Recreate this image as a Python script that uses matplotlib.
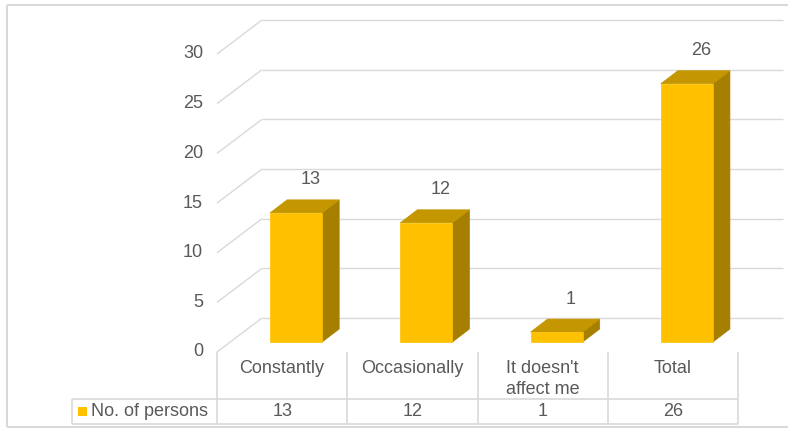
import matplotlib
matplotlib.use("Agg")
import matplotlib.pyplot as plt
import matplotlib.transforms as mtransforms
from matplotlib.patches import Polygon, Rectangle
from matplotlib.lines import Line2D

# ---- data ----
categories = ["Constantly", "Occasionally", "It doesn't\naffect me", "Total"]
series_name = "No. of persons"
values = [13, 12, 1, 26]
y_ticks = [0, 5, 10, 15, 20, 25, 30]

# ---- style ----
FRONT = "#FFC000"
TOP = "#C49600"
SIDE = "#A67E00"
GRID = "#D9D9D9"
TEXT = "#595959"
FS = 13

plt.rcParams["font.family"] = ["Liberation Sans", "DejaVu Sans"]

W, H = 788, 428
fig = plt.figure(figsize=(W / 100, H / 100), dpi=100)

# back wall of the 3-D plot area (pixel layout)
wall_left, wall_right, wall_top, wall_bottom = 262, 783, 20, 318
ax = fig.add_axes([wall_left / W, (H - wall_bottom) / H,
                   (wall_right - wall_left) / W, (wall_bottom - wall_top) / H])
ax.set_xlim(-0.5, len(categories) - 0.5)
ax.set_ylim(0, 30)
ax.axis("off")

# depth offsets (display pixels, y up)
FLOOR = (-45, -34)       # front edge of floor / side wall
BAR_FRONT = (-31, -24)   # front face of columns
BAR_BACK = (-14, -11)    # back face of columns
BAR_W = 0.40

ident = mtransforms.IdentityTransform()


def disp(x, v, off=(0, 0)):
    p = ax.transData.transform((x, v))
    return (p[0] + off[0], p[1] + off[1])


def img(x, y):
    """image-style pixel (y down) -> display pixel"""
    return (x, H - y)


def shifted(dx, dy):
    return mtransforms.offset_copy(ax.transData, fig=fig, x=dx, y=dy, units="dots")


def line(p0, p1, color=GRID, lw=1.0, z=1):
    fig.add_artist(Line2D([p0[0], p1[0]], [p0[1], p1[1]], transform=ident,
                          color=color, lw=lw, zorder=z, solid_capstyle="butt"))


# ---- gridlines on back wall and side wall ----
for t in y_ticks:
    line(disp(-0.5, t), disp(len(categories) - 0.5, t))
    line(disp(-0.5, t), disp(-0.5, t, FLOOR))
    ax.text(-0.5, t, str(t), transform=shifted(FLOOR[0] - 14, FLOOR[1]),
            ha="right", va="center", fontsize=FS, color=TEXT, clip_on=False)

# ---- 3-D columns ----
for i, v in enumerate(values):
    x0, x1 = i - BAR_W / 2, i + BAR_W / 2
    fl, fr = disp(x0, 0, BAR_FRONT), disp(x1, 0, BAR_FRONT)
    tl, tr = disp(x0, v, BAR_FRONT), disp(x1, v, BAR_FRONT)
    btl, btr = disp(x0, v, BAR_BACK), disp(x1, v, BAR_BACK)
    bbr = disp(x1, 0, BAR_BACK)
    fig.add_artist(Polygon([tr, btr, bbr, fr], closed=True, transform=ident,
                           facecolor=SIDE, edgecolor=SIDE, lw=0.5, zorder=3))
    fig.add_artist(Polygon([tl, tr, btr, btl], closed=True, transform=ident,
                           facecolor=TOP, edgecolor=TOP, lw=0.5, zorder=3))
    fig.add_artist(Polygon([fl, fr, tr, tl], closed=True, transform=ident,
                           facecolor=FRONT, edgecolor=FRONT, lw=0.5, zorder=4))
    ax.text(i, v, str(v), transform=shifted(BAR_FRONT[0] + 14, BAR_BACK[1] + 20),
            ha="center", va="center", fontsize=FS, color=TEXT, clip_on=False)

# ---- data table ----
row_top, row_mid, row_bot = 352, 399, 424
legend_left = 72
n = len(categories)
for k in range(n + 1):
    x = disp(k - 0.5, 0, FLOOR)[0]
    line((x, H - row_top), (x, H - row_bot), lw=1.2)
x_right = disp(n - 0.5, 0, FLOOR)[0]
line(img(legend_left, row_mid), (x_right, H - row_mid), lw=1.2)
line(img(legend_left, row_bot), (x_right, H - row_bot), lw=1.2)
line(img(legend_left, row_mid), img(legend_left, row_bot), lw=1.2)

for i, (cat, v) in enumerate(zip(categories, values)):
    cx = disp(i, 0, FLOOR)[0]
    fig.text(cx / W, (H - 360) / H, cat, ha="center", va="top",
             fontsize=FS, color=TEXT, linespacing=1.3)
    fig.text(cx / W, (H - 411.5) / H, str(v), ha="center", va="center",
             fontsize=FS, color=TEXT)

fig.add_artist(Rectangle(img(78, 416), 9, 9, transform=ident,
                         facecolor=FRONT, edgecolor="none", zorder=5))
fig.text(91 / W, (H - 411.5) / H, series_name, ha="left", va="center",
         fontsize=FS, color=TEXT)

# ---- chart frame ----
line(img(7, 5), img(W, 5), lw=1.5)
line(img(7, 5), img(7, 427), lw=1.5)
line(img(7, 427), img(W, 427), lw=1.5)

fig.savefig("out.png", dpi=100)
